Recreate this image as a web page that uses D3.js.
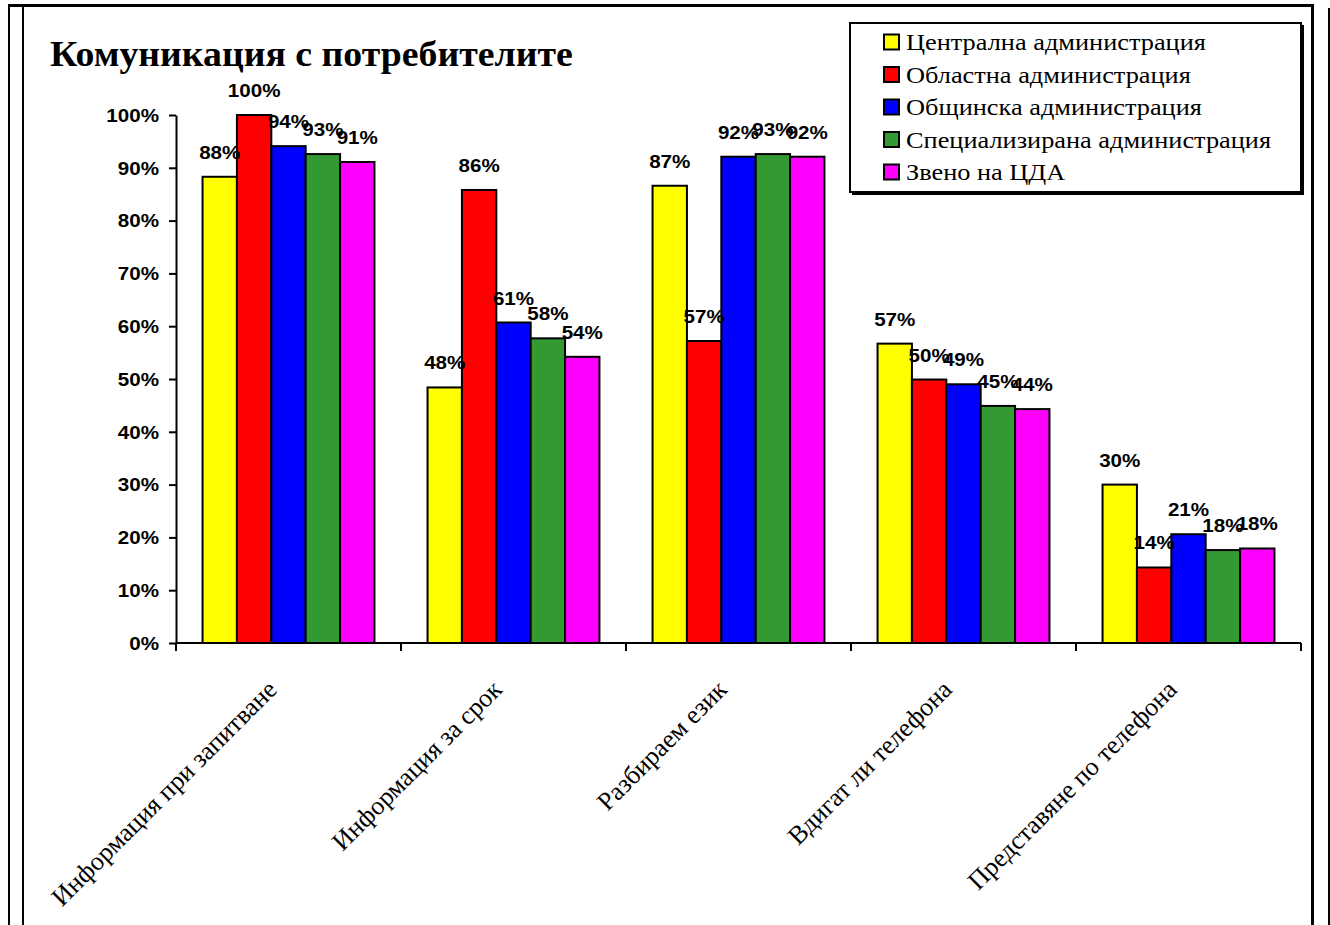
<!DOCTYPE html>
<html>
<head>
<meta charset="utf-8">
<script src="https://cdn.jsdelivr.net/npm/d3@7"></script>
<style>
  html, body { margin: 0; padding: 0; background: #fff; }
  svg { display: block; }
</style>
</head>
<body>
<script>
// Категории, серии и стойности (дял на положителните отговори)
const categories = [
  "Информация при запитване",
  "Информация за срок",
  "Разбираем език",
  "Вдигат ли телефона",
  "Представяне по телефона"
];
const seriesNames = [
  "Централна администрация",
  "Областна администрация",
  "Общинска администрация",
  "Специализирана администрация",
  "Звено на ЦДА"
];
const centralValues     = [0.883, 0.484, 0.866, 0.567, 0.300];
const regionalValues    = [1.000, 0.858, 0.572, 0.499, 0.143];
const municipalValues   = [0.941, 0.607, 0.921, 0.490, 0.206];
const specializedValues = [0.926, 0.577, 0.926, 0.449, 0.176];
const unitValues        = [0.911, 0.542, 0.921, 0.443, 0.179];
const seriesColors = ["#FFFF00", "#FF0000", "#0000FF", "#339933", "#FF00FF"];
const yTicks = [0, 0.1, 0.2, 0.3, 0.4, 0.5, 0.6, 0.7, 0.8, 0.9, 1.0];
const chartTitle = "Комуникация с потребителите";

const seriesValues = [centralValues, regionalValues, municipalValues, specializedValues, unitValues];

const W = 1330, H = 925;
const SX = 1.145; // хоризонтално разтягане на шрифтовете
const SANS = "Liberation Sans, Arial, sans-serif";
const SERIF = "Liberation Serif, Times New Roman, serif";

const svg = d3.select("body").append("svg").attr("width", W).attr("height", H);

// Поставя текст в (x, y) с хоризонтално разтягане
function place(sel, fx, fy, sx) {
  sel.attr("transform", (d, i) => `translate(${fx(d, i)},${fy(d, i)}) scale(${sx},1)`);
}

// Рамки на страницата
const frame = svg.append("g").attr("stroke", "#000").attr("fill", "none");
frame.append("line").attr("x1", 8).attr("x2", 1314).attr("y1", 5.5).attr("y2", 5.5).attr("stroke-width", 3);
frame.append("line").attr("x1", 9).attr("x2", 9).attr("y1", 4).attr("y2", H).attr("stroke-width", 2);
frame.append("line").attr("x1", 23).attr("x2", 23).attr("y1", 7).attr("y2", H).attr("stroke-width", 2);
frame.append("line").attr("x1", 1312.5).attr("x2", 1312.5).attr("y1", 4).attr("y2", H).attr("stroke-width", 3);
frame.append("line").attr("x1", 1329).attr("x2", 1329).attr("y1", 8).attr("y2", H).attr("stroke-width", 2);

// Скали
const x0 = d3.scaleBand().domain(categories).range([176, 1301])
  .paddingInner(0.236).paddingOuter(0.118);
const x1 = d3.scaleBand().domain(d3.range(seriesNames.length)).range([0, x0.bandwidth()]);
const y = d3.scaleLinear().domain([0, 1]).range([643, 115]);
const pct = d3.format(".0%");

// Заглавие
svg.append("text")
  .datum(chartTitle)
  .attr("font-family", SERIF)
  .attr("font-weight", "bold").attr("font-size", 35)
  .text(d => d)
  .call(place, () => 50, () => 66, 1.08);

// Стълбове
const groups = svg.append("g").selectAll("g").data(categories).join("g")
  .attr("transform", d => `translate(${x0(d)},0)`);

groups.selectAll("rect")
  .data((c, ci) => seriesValues.map((vals, si) => ({ si, v: vals[ci] })))
  .join("rect")
  .attr("x", d => x1(d.si))
  .attr("y", d => y(d.v))
  .attr("width", x1.bandwidth())
  .attr("height", d => y(0) - y(d.v))
  .attr("fill", d => seriesColors[d.si])
  .attr("stroke", "#000").attr("stroke-width", 2);

// Надписи със стойностите
groups.selectAll("text")
  .data((c, ci) => seriesValues.map((vals, si) => ({ si, v: vals[ci] })))
  .join("text")
  .attr("text-anchor", "middle")
  .attr("font-family", SANS)
  .attr("font-weight", "bold").attr("font-size", 18)
  .text(d => pct(d.v))
  .call(place, d => x1(d.si) + x1.bandwidth() / 2, d => y(d.v) - 18, SX);

// Оста Y
const yAxis = svg.append("g").attr("transform", "translate(176,0)")
  .call(d3.axisLeft(y).tickValues(yTicks).tickFormat(pct).tickSize(7).tickSizeOuter(0).tickPadding(10));
yAxis.select(".domain").attr("stroke-width", 2);
yAxis.selectAll(".tick line").attr("stroke-width", 2);
yAxis.selectAll(".tick text")
  .attr("x", null).attr("dy", "0.35em")
  .attr("font-family", SANS)
  .attr("font-weight", "bold").attr("font-size", 18).attr("fill", "#000")
  .call(place, () => -17, () => 0, SX);

// Оста X: деления на границите между категориите
const xAxisG = svg.append("g");
xAxisG.append("line")
  .attr("x1", x0.range()[0]).attr("x2", x0.range()[1]).attr("y1", y(0)).attr("y2", y(0))
  .attr("stroke", "#000").attr("stroke-width", 2);
const bounds = d3.range(categories.length + 1).map(i => x0.range()[0] + i * x0.step());
xAxisG.selectAll("line.tk").data(bounds).join("line").attr("class", "tk")
  .attr("x1", d => d).attr("x2", d => d)
  .attr("y1", y(0)).attr("y2", y(0) + 8)
  .attr("stroke", "#000").attr("stroke-width", 2);

// Надписи на категориите, завъртени на 45°
xAxisG.selectAll("text").data(categories).join("text")
  .attr("transform", d => `translate(${x0(d) + x0.bandwidth() / 2 - 10},${y(0) + 48}) rotate(-45)`)
  .attr("text-anchor", "end")
  .attr("font-family", SERIF)
  .attr("font-size", 26)
  .text(d => d);

// Легенда
const lg = svg.append("g");
lg.append("rect").attr("x", 852).attr("y", 25).attr("width", 452).attr("height", 170).attr("fill", "#000");
lg.append("rect").attr("x", 850).attr("y", 23).attr("width", 451).attr("height", 169)
  .attr("fill", "#fff").attr("stroke", "#000").attr("stroke-width", 2);
const items = lg.selectAll("g.item").data(seriesNames).join("g").attr("class", "item")
  .attr("transform", (d, i) => `translate(0,${42 + i * 32.5})`);
items.append("rect").attr("x", 884).attr("y", -7.5).attr("width", 15).attr("height", 15)
  .attr("fill", (d, i) => seriesColors[i]).attr("stroke", "#000").attr("stroke-width", 2);
items.append("text")
  .attr("font-family", SERIF)
  .attr("font-size", 23)
  .text(d => d)
  .call(place, () => 906, () => 8, SX);
</script>
</body>
</html>
